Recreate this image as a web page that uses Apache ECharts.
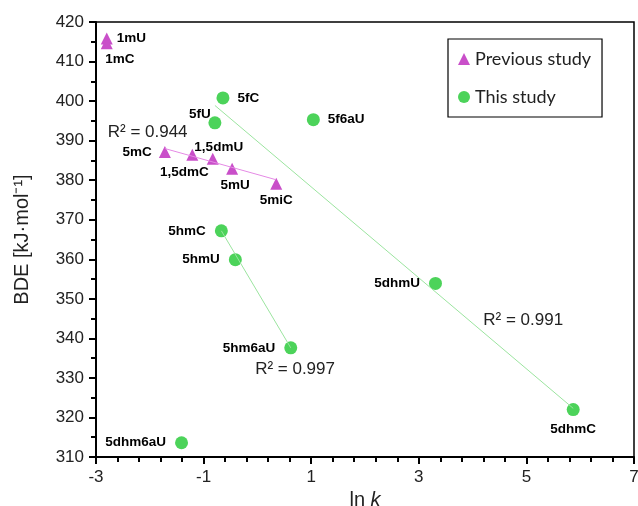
<!DOCTYPE html>
<html>
<head>
<meta charset="utf-8">
<script src="https://cdn.jsdelivr.net/npm/echarts@6/dist/echarts.min.js"></script>
<style>
  html, body { margin: 0; padding: 0; background: #fff; }
  #chart { width: 638px; height: 506px; }
</style>
</head>
<body>
<div id="chart"></div>
<script>
// previous study (triangles)
const prevNames = ['1mU', '1mC', '5mC', '1,5dmC', '1,5dmU', '5mU', '5miC']
const prevX = [-2.80, -2.80, -1.72, -1.21, -0.83, -0.47, 0.35]
const prevY = [415.8, 414.6, 387.1, 386.4, 385.4, 382.9, 379.1]
const prevFitX = [-1.72, 0.35]
const prevFitY = [388.0, 380.1]

// this study (circles)
const thisNames = ['5fC', '5fU', '5f6aU', '5hmC', '5hmU', '5hm6aU', '5dhm6aU', '5dhmU', '5dhmC']
const thisX = [-0.64, -0.79, 1.04, -0.67, -0.41, 0.62, -1.41, 3.31, 5.87]
const thisY = [400.8, 394.5, 395.3, 367.2, 359.9, 337.6, 313.6, 353.9, 322.0]
const fit1X = [-0.79, 5.87]
const fit1Y = [398.9, 322.3]
const fit2X = [-0.67, 0.62]
const fit2Y = [367.2, 337.6]

// R² annotations
const r2Text = ['R² = 0.944', 'R² = 0.997', 'R² = 0.991']
const r2X = [-2.04, 0.70, 4.94]
const r2Y = [392.0, 332.2, 344.6]

const MAGENTA = '#c94fc9'
const GREEN = '#4cd35a'

// label placement per point
const labelPlace = {
  '1mU': { position: 'right', distance: 4 },
  '1mC': { position: 'bottom', offset: [13, 0], distance: 3 },
  '5mC': { position: 'left', distance: 7 },
  '1,5dmC': { position: 'bottom', offset: [-8, 1], distance: 3 },
  '1,5dmU': { position: 'top', offset: [6, 3], distance: 2 },
  '5mU': { position: 'bottom', offset: [3, 1], distance: 3 },
  '5miC': { position: 'bottom', offset: [0, 1], distance: 3 },
  '5fC': { position: 'right', distance: 8 },
  '5fU': { position: 'top', offset: [-15, 9], distance: 4 },
  '5f6aU': { position: 'right', distance: 8 },
  '5hmC': { position: 'left', distance: 9 },
  '5hmU': { position: 'left', distance: 9 },
  '5hm6aU': { position: 'left', distance: 9 },
  '5dhm6aU': { position: 'left', distance: 9 },
  '5dhmU': { position: 'left', distance: 9 },
  '5dhmC': { position: 'bottom', offset: [0, 3], distance: 3 }
}

function points(names, xs, ys) {
  return names.map((n, i) => ({
    name: n,
    value: [xs[i], ys[i]],
    label: Object.assign({ show: true }, labelPlace[n])
  }))
}

const chart = echarts.init(document.getElementById('chart'))
const ptLabel = {
  show: true,
  formatter: '{b}',
  color: '#000',
  fontFamily: 'Liberation Sans',
  fontWeight: 'bold',
  fontSize: 13.5
}

chart.setOption({
  animation: false,
  textStyle: { fontFamily: 'Liberation Sans' },
  grid: {
    left: 96, right: 4, top: 22, bottom: 49,
    outerBoundsMode: 'none',
    show: true, borderColor: '#000', borderWidth: 1.5
  },
  legend: {
    left: 448, top: 39,
    orient: 'vertical',
    padding: [11, 11, 11, 10],
    itemGap: 20,
    itemWidth: 12, itemHeight: 12,
    borderColor: '#000', borderWidth: 1.2,
    textStyle: { fontSize: 18, color: '#222', fontFamily: 'Lato' },
    data: [
      { name: 'Previous study', icon: 'triangle', itemStyle: { color: MAGENTA, opacity: 1 } },
      { name: 'This study', icon: 'circle', itemStyle: { color: GREEN, opacity: 1 } }
    ]
  },
  xAxis: {
    type: 'value', min: -3, max: 7, interval: 2,
    name: '{n|ln }{i|k}',
    nameLocation: 'middle', nameGap: 32,
    nameTextStyle: {
      rich: {
        n: { fontSize: 20, color: '#222', fontFamily: 'Liberation Sans' },
        i: { fontSize: 20, color: '#222', fontStyle: 'italic', fontFamily: 'Liberation Sans' }
      }
    },
    axisLine: { onZero: false, lineStyle: { color: '#000', width: 2 } },
    axisTick: { length: 7, lineStyle: { color: '#000', width: 2 } },
    minorTick: { show: true, splitNumber: 5, length: 5, lineStyle: { color: '#000', width: 2 } },
    axisLabel: { fontSize: 17, color: '#222', margin: 12 },
    splitLine: { show: false }
  },
  yAxis: {
    type: 'value', min: 310, max: 420, interval: 10,
    name: 'BDE [kJ·mol⁻¹]',
    nameLocation: 'middle', nameGap: 64,
    nameTextStyle: { fontSize: 20, color: '#222' },
    axisLine: { onZero: false, lineStyle: { color: '#000', width: 2 } },
    axisTick: { length: 7, lineStyle: { color: '#000', width: 2 } },
    minorTick: { show: true, splitNumber: 2, length: 5, lineStyle: { color: '#000', width: 2 } },
    axisLabel: { fontSize: 17, color: '#222', margin: 12 },
    splitLine: { show: false }
  },
  series: [
    {
      type: 'line', silent: true, showSymbol: false,
      data: prevFitX.map((x, i) => [x, prevFitY[i]]),
      lineStyle: { color: '#e58ae5', width: 1 }
    },
    {
      type: 'line', silent: true, showSymbol: false,
      data: fit1X.map((x, i) => [x, fit1Y[i]]),
      lineStyle: { color: '#9be49f', width: 1 }
    },
    {
      type: 'line', silent: true, showSymbol: false,
      data: fit2X.map((x, i) => [x, fit2Y[i]]),
      lineStyle: { color: '#9be49f', width: 1 }
    },
    {
      name: 'Previous study',
      type: 'scatter',
      symbol: 'triangle', symbolSize: 12,
      itemStyle: { color: MAGENTA, opacity: 1 },
      label: ptLabel,
      data: points(prevNames, prevX, prevY)
    },
    {
      name: 'This study',
      type: 'scatter',
      symbol: 'circle', symbolSize: 13,
      itemStyle: { color: GREEN, opacity: 1 },
      label: ptLabel,
      data: points(thisNames, thisX, thisY)
    },
    {
      type: 'scatter', silent: true,
      symbolSize: 0,
      itemStyle: { opacity: 1 },
      label: {
        show: true, position: 'inside', formatter: '{b}',
        fontSize: 17, color: '#222', fontFamily: 'Liberation Sans'
      },
      data: r2Text.map((t, i) => ({ name: t, value: [r2X[i], r2Y[i]] }))
    }
  ]
})
</script>
</body>
</html>
